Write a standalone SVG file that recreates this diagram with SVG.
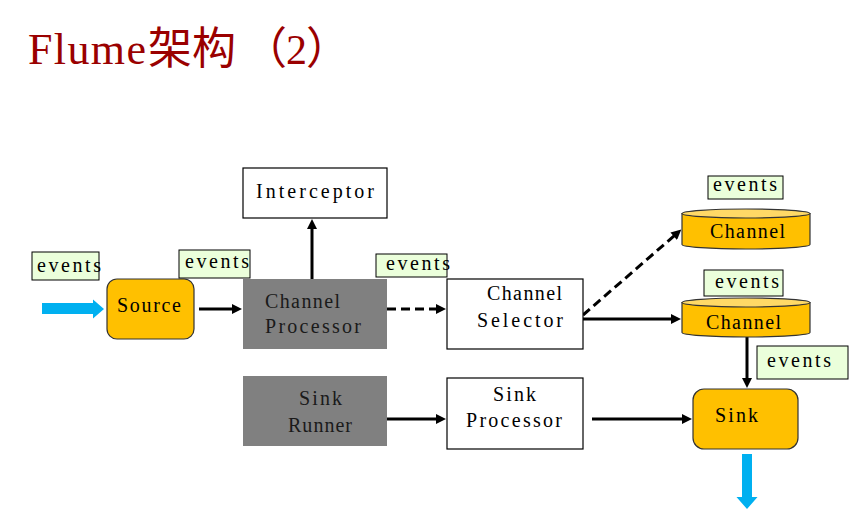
<svg xmlns="http://www.w3.org/2000/svg" width="851" height="509" viewBox="0 0 851 509">
<style>
.t{font-family:"Liberation Serif","DejaVu Serif",serif;font-size:20px;fill:#000}
.ev rect{fill:#EBFFDB;stroke:#000;stroke-width:1}
.box{fill:#fff;stroke:#000;stroke-width:1.2}
.gray{fill:#808080}
.gt{fill:#1a1a1a}
.orange{fill:#FFC000;stroke:#333;stroke-width:1.2}
.ctop{fill:#FFD966;stroke:#333;stroke-width:1.2}
.conn{stroke:#000;stroke-width:3;fill:none}
.dash{stroke-dasharray:9 5}
.blue{fill:#00B0F0}
.title{font-family:"Liberation Serif",serif;font-size:44px;fill:#9A0000}
</style>
<defs>
<marker id="ah" viewBox="0 0 10 10" refX="1" refY="5" markerWidth="11" markerHeight="10" markerUnits="userSpaceOnUse" orient="auto">
<path d="M0,0 L10,5 L0,10 z" fill="#000"/>
</marker>
</defs>
<rect width="851" height="509" fill="#fff"/>

<g id="title">
<text class="title" y="64"><tspan x="28" textLength="118" lengthAdjust="spacing">Flume</tspan><tspan x="148" font-family="Noto Sans CJK SC" font-size="44">架构</tspan><tspan x="243" font-family="Noto Sans CJK SC" font-size="44">（</tspan><tspan x="286" font-size="42">2</tspan><tspan x="306" font-family="Noto Sans CJK SC" font-size="44">）</tspan></text>
</g>

<g id="connectors">
<line class="conn" x1="199" y1="309" x2="233" y2="309" marker-end="url(#ah)"/>
<line class="conn" x1="312" y1="279" x2="312" y2="228" marker-end="url(#ah)"/>
<line class="conn dash" x1="387" y1="309" x2="437" y2="309" marker-end="url(#ah)"/>
<line class="conn dash" x1="583" y1="315" x2="674.5" y2="235.5" marker-end="url(#ah)"/>
<line class="conn" x1="583" y1="319" x2="672" y2="319" marker-end="url(#ah)"/>
<line class="conn" x1="747" y1="337" x2="747" y2="379" marker-end="url(#ah)"/>
<line class="conn" x1="387" y1="419" x2="437" y2="419" marker-end="url(#ah)"/>
<line class="conn" x1="592" y1="419" x2="683" y2="419" marker-end="url(#ah)"/>
<polygon class="blue" points="42,303 93,303 93,299.5 104,309 93,318.5 93,314 42,314"/>
<polygon class="blue" points="742,454 752,454 752,497 757.5,497 747,509 736.5,497 742,497"/>
</g>

<g id="interceptor">
<rect class="box" x="243" y="168" width="144" height="50"/>
<text class="t" x="256" y="198" textLength="118" lengthAdjust="spacing">Interceptor</text>
</g>

<g id="source">
<rect class="orange" x="107" y="279" width="87" height="60" rx="10"/>
<text class="t" x="117" y="312" textLength="64" lengthAdjust="spacing">Source</text>
</g>

<g id="channel-processor">
<rect class="gray" x="243" y="279" width="144" height="70"/>
<text class="t gt" x="265" y="308" textLength="75" lengthAdjust="spacing">Channel</text>
<text class="t gt" x="265" y="333" textLength="96" lengthAdjust="spacing">Processor</text>
</g>

<g id="channel-selector">
<rect class="box" x="447" y="279" width="136" height="70"/>
<text class="t" x="487" y="300" textLength="75" lengthAdjust="spacing">Channel</text>
<text class="t" x="477" y="327" textLength="86" lengthAdjust="spacing">Selector</text>
</g>

<g id="channel-1">
<path class="orange" d="M682,213.5 V244.5 A64,4.5 0 0 0 810,244.5 V213.5 Z"/>
<ellipse class="ctop" cx="746" cy="213.5" rx="64" ry="4.5"/>
<text class="t" x="710" y="238" textLength="75" lengthAdjust="spacing">Channel</text>
</g>

<g id="channel-2">
<path class="orange" d="M682,302.5 V332.5 A64,4.5 0 0 0 810,332.5 V302.5 Z"/>
<ellipse class="ctop" cx="746" cy="302.5" rx="64" ry="4.5"/>
<text class="t" x="706" y="329" textLength="75" lengthAdjust="spacing">Channel</text>
</g>

<g id="sink-runner">
<rect class="gray" x="243" y="376" width="144" height="70"/>
<text class="t gt" x="299" y="405" textLength="43" lengthAdjust="spacing">Sink</text>
<text class="t gt" x="288" y="432" textLength="64" lengthAdjust="spacing">Runner</text>
</g>

<g id="sink-processor">
<rect class="box" x="447" y="378" width="136" height="71"/>
<text class="t" x="493" y="401" textLength="43" lengthAdjust="spacing">Sink</text>
<text class="t" x="466" y="427" textLength="96" lengthAdjust="spacing">Processor</text>
</g>

<g id="sink">
<rect class="orange" x="693" y="389" width="105" height="60" rx="11"/>
<text class="t" x="715" y="422" textLength="43" lengthAdjust="spacing">Sink</text>
</g>

<g id="events-1" class="ev">
<rect x="32" y="252" width="67" height="28"/>
<text class="t" x="37" y="272" textLength="64" lengthAdjust="spacing">events</text>
</g>
<g id="events-2" class="ev">
<rect x="179" y="250" width="71" height="28"/>
<text class="t" x="185" y="268" textLength="64" lengthAdjust="spacing">events</text>
</g>
<g id="events-3" class="ev">
<rect x="376" y="254" width="71" height="23"/>
<text class="t" x="386" y="270" textLength="64" lengthAdjust="spacing">events</text>
</g>
<g id="events-4" class="ev">
<rect x="708" y="176" width="75" height="23"/>
<text class="t" x="713" y="191" textLength="64" lengthAdjust="spacing">events</text>
</g>
<g id="events-5" class="ev">
<rect x="704" y="270" width="79" height="26"/>
<text class="t" x="715" y="288" textLength="64" lengthAdjust="spacing">events</text>
</g>
<g id="events-6" class="ev">
<rect x="757" y="346" width="91" height="33"/>
<text class="t" x="767" y="367" textLength="64" lengthAdjust="spacing">events</text>
</g>
</svg>
